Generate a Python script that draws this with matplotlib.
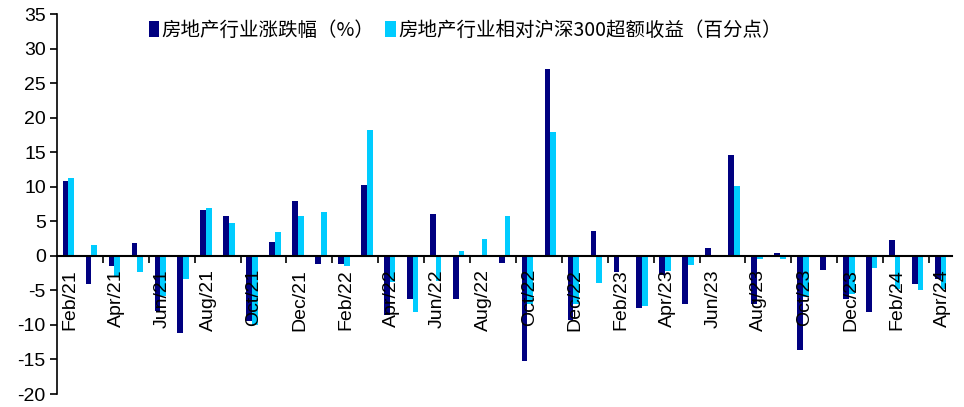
import matplotlib
matplotlib.use('Agg')
import matplotlib.pyplot as plt
import numpy as np

plt.rcParams['font.family'] = ['Liberation Sans', 'Noto Sans CJK SC', 'DejaVu Sans']
plt.rcParams['axes.unicode_minus'] = False

months = ['Feb/21', 'Mar/21', 'Apr/21', 'May/21', 'Jun/21', 'Jul/21', 'Aug/21', 'Sep/21',
          'Oct/21', 'Nov/21', 'Dec/21', 'Jan/22', 'Feb/22', 'Mar/22', 'Apr/22', 'May/22',
          'Jun/22', 'Jul/22', 'Aug/22', 'Sep/22', 'Oct/22', 'Nov/22', 'Dec/22', 'Jan/23',
          'Feb/23', 'Mar/23', 'Apr/23', 'May/23', 'Jun/23', 'Jul/23', 'Aug/23', 'Sep/23',
          'Oct/23', 'Nov/23', 'Dec/23', 'Jan/24', 'Feb/24', 'Mar/24', 'Apr/24']

# 房地产行业涨跌幅（%）
sector_ret = [10.9, -4.1, -1.5, 1.8, -8.0, -11.1, 6.6, 5.8,
              -9.5, 2.0, 7.9, -1.2, -1.2, 10.3, -8.5, -6.3,
              6.0, -6.3, 0.1, -1.0, -15.2, 27.0, -9.3, 3.6,
              -2.3, -7.5, -2.8, -6.9, 1.2, 14.6, -6.9, 0.4,
              -13.6, -2.0, -6.3, -8.2, 2.3, -4.1, -3.4]

# 相对沪深300超额收益（百分点）
excess_ret = [11.2, 1.5, -3.0, -2.3, -5.8, -3.4, 6.9, 4.7,
              -10.0, 3.4, 5.8, 6.4, -1.5, 18.2, -3.8, -8.2,
              -3.6, 0.7, 2.5, 5.8, -7.0, 17.9, -7.0, -3.9,
              0.1, -7.3, -2.2, -1.3, 0.1, 10.1, -0.4, -0.5,
              -6.0, 0.05, -5.5, -1.7, -4.8, -4.9, -4.8]

label1 = '房地产行业涨跌幅（%）'
label2 = '房地产行业相对沪深300超额收益（百分点）'

navy = '#000080'
cyan = '#00CCFF'

fig = plt.figure(figsize=(9.64, 4.07), dpi=100)
ax = fig.add_axes([0.0591, 0.0319, 0.9285, 0.9337])

x = np.arange(len(months))
w = 0.25
ax.bar(x - w / 2, sector_ret, width=w, color=navy, label=label1)
ax.bar(x + w / 2, excess_ret, width=w, color=cyan, label=label2)

ax.set_xlim(-0.5, len(months) - 0.5)
ax.set_ylim(-20, 35)
ax.set_yticks(np.arange(-20, 36, 5))
ax.tick_params(axis='y', labelsize=14, length=5, width=1.2, direction='out', pad=3)

# x axis sits on the zero line, ticks every two months between bars
ax.spines['top'].set_visible(False)
ax.spines['right'].set_visible(False)
ax.spines['bottom'].set_position(('data', 0))
ax.spines['bottom'].set_linewidth(1.5)
ax.spines['left'].set_linewidth(1.2)
ax.set_xticks(np.arange(1.5, len(months) - 1, 2))
ax.set_xticklabels([])
ax.tick_params(axis='x', length=5, width=1.2, direction='out')

for i in range(0, len(months), 2):
    ax.text(i + 0.08, -1.9, months[i], rotation=90, ha='center', va='top', fontsize=14)

leg = ax.legend(loc='upper left', bbox_to_anchor=(0.083, 1.03), ncol=2, frameon=False,
                handlelength=0.55, handleheight=0.9, handletextpad=0.12, columnspacing=0.55,
                prop={'family': ['Noto Sans CJK SC'], 'size': 14})

fig.savefig('out.png', dpi=100)
